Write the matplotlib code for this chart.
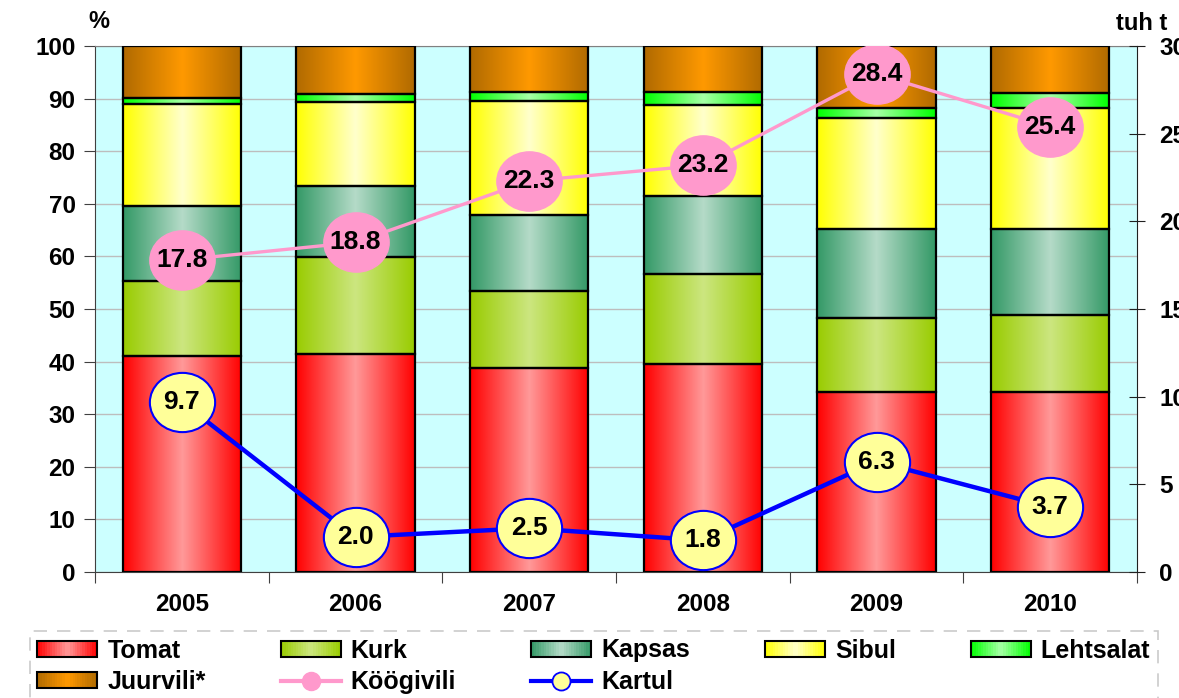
import numpy as np
import matplotlib
matplotlib.use('Agg')
from matplotlib import pyplot as plt
from matplotlib.colors import LinearSegmentedColormap
from matplotlib.patches import Rectangle
from matplotlib.lines import Line2D
from matplotlib.legend_handler import HandlerBase
from matplotlib.path import Path
from matplotlib.transforms import Affine2D

plt.rcParams['font.family'] = ['Liberation Sans', 'DejaVu Sans']
plt.rcParams['font.weight'] = 'bold'

years = ['2005', '2006', '2007', '2008', '2009', '2010']

# shares, % (stacked from bottom)
tomat = [41.1, 41.5, 38.8, 39.5, 34.2, 34.2]
kurk = [14.3, 18.3, 14.7, 17.2, 14.0, 14.7]
kapsas = [14.1, 13.6, 14.4, 14.7, 17.0, 16.3]
sibul = [19.5, 16.0, 21.6, 17.3, 21.2, 23.1]
lehtsalat = [1.2, 1.5, 1.8, 2.6, 1.9, 2.7]
juurvili = [9.8, 9.1, 8.7, 8.7, 11.7, 9.0]

# thousand tonnes (right axis)
koogivili = [17.8, 18.8, 22.3, 23.2, 28.4, 25.4]
kartul = [9.7, 2.0, 2.5, 1.8, 6.3, 3.7]

series = [
    ('Tomat', tomat, '#FF0000', '#FF9999'),
    ('Kurk', kurk, '#99CC00', '#CCE680'),
    ('Kapsas', kapsas, '#339966', '#B5DBC8'),
    ('Sibul', sibul, '#FFFF00', '#FFFFCC'),
    ('Lehtsalat', lehtsalat, '#00FF00', '#A6FFA6'),
    ('Juurvili*', juurvili, '#B06A00', '#FF9900'),
]

fig = plt.figure(figsize=(11.79, 6.98), dpi=100)
ax = fig.add_axes([95 / 1179, 1 - 572 / 698, (1137 - 95) / 1179, (572 - 46) / 698])
ax.set_facecolor('#CCFFFF')

x = np.arange(len(years))
width = 0.68
grad = np.linspace(0, 1, 256).reshape(1, -1)
bottom = np.zeros(len(years))
for name, vals, edge, center in series:
    cmap = LinearSegmentedColormap.from_list(name, [edge, center, edge])
    bars = ax.bar(x, vals, width, bottom=bottom, color='none', edgecolor='black',
                  linewidth=1.6, zorder=3)
    for b in bars:
        x0, y0 = b.get_xy()
        ax.imshow(grad, cmap=cmap, extent=(x0, x0 + b.get_width(), y0, y0 + b.get_height()),
                  aspect='auto', zorder=2, interpolation='bilinear')
    bottom += np.array(vals)

ax.set_xlim(-0.5, len(years) - 0.5)
ax.set_ylim(0, 100)
ax.set_yticks(np.arange(0, 101, 10))
ax.grid(axis='y', color='#BDBDBD', linewidth=1, zorder=1)
ax.set_axisbelow(True)
ax.set_xticks(np.arange(-0.5, len(years), 1))
ax.set_xticklabels([])
ax.set_xticks(x, minor=True)
ax.set_xticklabels(years, minor=True)
ax.tick_params(axis='x', which='major', length=8, direction='out', color='#404040')
ax.tick_params(axis='x', which='minor', length=0, pad=15, labelsize=17.5)
ax.tick_params(axis='y', length=8, direction='out', labelsize=17.5, pad=6, color='#404040')
for s in ['left', 'bottom']:
    ax.spines[s].set_color('#404040')
ax.spines['top'].set_color('#808080')
ax.spines['right'].set_visible(False)

ax2 = ax.twinx()
ax2.set_ylim(0, 30)
ax2.set_yticks(np.arange(0, 31, 5))
ax2.tick_params(axis='y', length=12, direction='inout', labelsize=17.5, pad=10, color='#202020')
ax2.spines['right'].set_color('#202020')
for s in ['left', 'top', 'bottom']:
    ax2.spines[s].set_visible(False)

ell = Path.unit_circle().transformed(Affine2D().scale(1, 59 / 65))
ax2.plot(x, koogivili, color='#FF99CC', linewidth=2.4, marker=ell, markersize=47,
         markerfacecolor='#FF99CC', markeredgecolor='#FF99CC', zorder=5)
ax2.plot(x, kartul, color='#0000FF', linewidth=3.2, marker=ell, markersize=47,
         markerfacecolor='#FFFF99', markeredgecolor='#0000FF', markeredgewidth=1.5, zorder=5)
for xi, v in zip(x, koogivili):
    ax2.text(xi, v, f'{v:.1f}', ha='center', va='center', fontsize=19, zorder=6)
for xi, v in zip(x, kartul):
    ax2.text(xi, v, f'{v:.1f}', ha='center', va='center', fontsize=19, zorder=6)

fig.text(88 / 1179, 1 - 22 / 698, '%', fontsize=17, va='center', ha='left')
fig.text(1167 / 1179, 1 - 23 / 698, 'tuh t', fontsize=17, va='center', ha='right')


class GradHandler(HandlerBase):
    def create_artists(self, legend, orig_handle, xd, yd, w, h, fontsize, trans):
        edge, center = orig_handle
        cmap = LinearSegmentedColormap.from_list('h', [edge, center, edge])
        arts = []
        n = 24
        for i in range(n):
            r = Rectangle((-xd + w * i / n, -yd), w / n + 0.3, h,
                          facecolor=cmap((i + 0.5) / n), edgecolor='none', transform=trans)
            arts.append(r)
        arts.append(Rectangle((-xd, -yd), w, h, facecolor='none', edgecolor='black',
                              linewidth=1.5, transform=trans))
        return arts


grad_h = {name: (edge, center) for name, _, edge, center in series}
pink = Line2D([], [], color='#FF99CC', linewidth=3, marker='o', markersize=13,
              markerfacecolor='#FF99CC', markeredgecolor='#FF99CC')
blue = Line2D([], [], color='#0000FF', linewidth=3, marker='o', markersize=13,
              markerfacecolor='#FFFF99', markeredgecolor='#0000FF', markeredgewidth=1.3)
# column-major order so the legend reads row by row
order = ['Tomat', 'Juurvili*', 'Kurk', 'Köögivili', 'Kapsas', 'Kartul', 'Sibul', 'Lehtsalat']
lookup = dict(grad_h)
lookup['Köögivili'] = pink
lookup['Kartul'] = blue
handles = [lookup[n] for n in order]

leg = fig.legend(handles, order, handler_map={tuple: GradHandler()}, ncol=5,
                 loc='upper left', bbox_to_anchor=(30 / 1179, 1 - 631 / 698),
                 prop={'weight': 'bold', 'size': 18}, handlelength=2.4,
                 handleheight=0.62, handletextpad=0.4, columnspacing=3.0,
                 labelspacing=0.3, borderpad=0.3, borderaxespad=0,
                 frameon=True, fancybox=False)
leg.get_frame().set_linestyle((0, (8, 6)))
leg.get_frame().set_edgecolor('#BDBDBD')
leg.get_frame().set_linewidth(1.2)

fig.savefig('out.png', dpi=100)
